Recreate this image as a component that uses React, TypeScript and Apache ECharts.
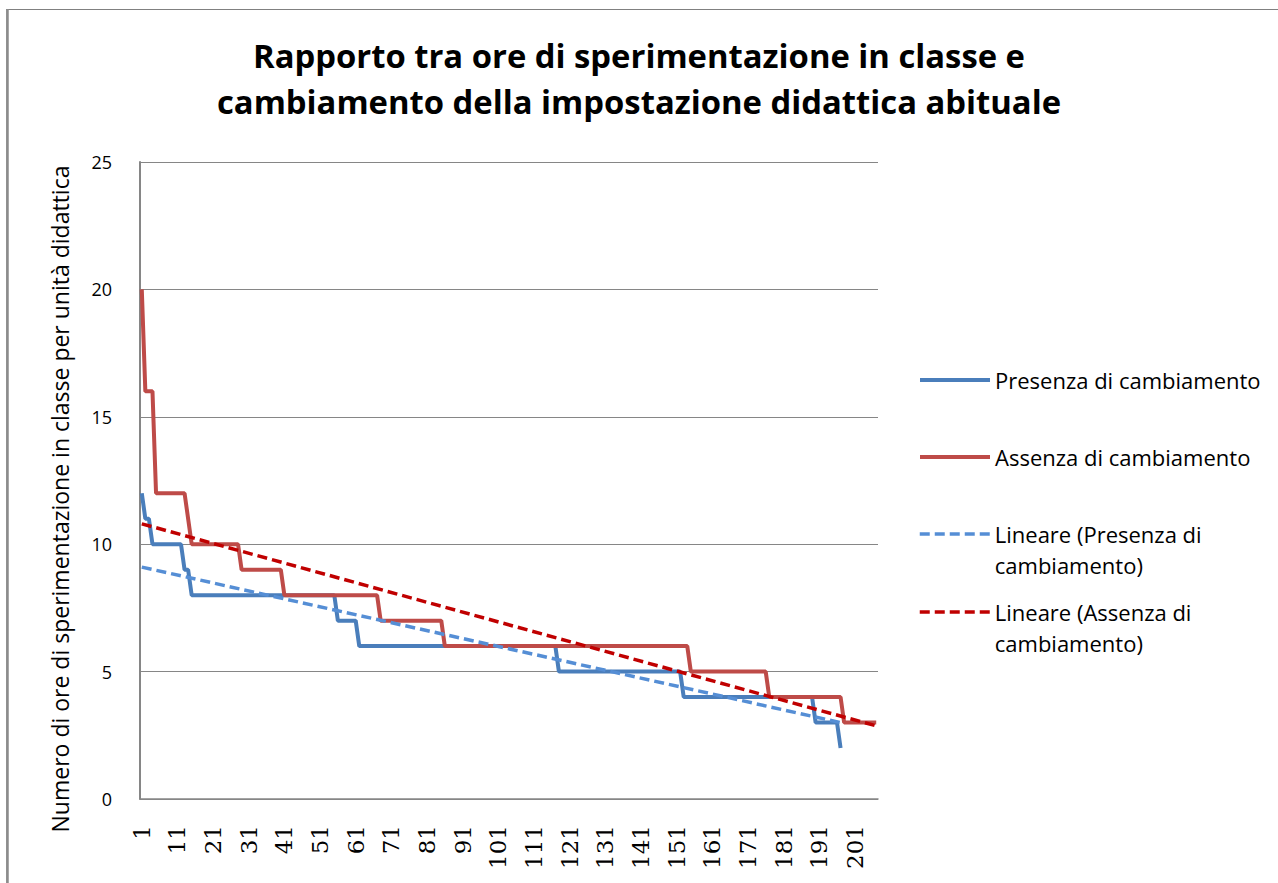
import React, { useEffect, useRef } from "react";
import * as echarts from "echarts";

// Category labels 1..207 (every record of the sorted data set)
const categoryCount = 207;
const categories: string[] = Array.from({ length: categoryCount }, (_, i) => String(i + 1));

const presenzaRuns: [number, number][] = [
  [12, 1], [11, 2], [10, 9], [9, 2], [8, 41], [7, 6], [6, 56], [5, 35], [4, 37], [3, 7], [2, 1],
];
const assenzaRuns: [number, number][] = [
  [20, 1], [16, 3], [12, 9], [11, 1], [10, 14], [9, 12], [8, 27], [7, 18], [6, 69], [5, 22], [4, 21], [3, 10],
];

// Linear trend lines: [record number, value] at their two ends
const presenzaTrend: [number, number][] = [[1, 9.1], [197, 3.0]];
const assenzaTrend: [number, number][] = [[1, 10.8], [207, 2.87]];

const yTicks = { min: 0, max: 25, interval: 5 };

const seriesNames = [
  "Presenza di cambiamento",
  "Assenza di cambiamento",
  "Lineare (Presenza di cambiamento)",
  "Lineare (Assenza di cambiamento)",
];
const legendLabels = [
  "Presenza di cambiamento",
  "Assenza di cambiamento",
  "\nLineare (Presenza di\ncambiamento)",
  "\nLineare (Assenza di\ncambiamento)",
];

const expand = (runs: [number, number][]) => {
  const out: number[] = [];
  runs.forEach(([v, n]) => {
    for (let k = 0; k < n; k++) out.push(v);
  });
  return out;
};

const FONT = "'Open Sans', Lato, sans-serif";

export default function App() {
  const ref = useRef<HTMLDivElement>(null);

  useEffect(() => {
    if (!ref.current) return;
    const chart = echarts.init(ref.current, undefined, { renderer: "svg" });

    const legendCenters = [380, 457, 534, 612];
    const legendBlock = [31, 31, 93, 93];
    const legendWidths = [4, 4, 3.5, 3.5];
    const legends = seriesNames.map((name, k) => ({
      data: [name],
      orient: "vertical",
      left: 918,
      top: legendCenters[k] - legendBlock[k] / 2,
      itemWidth: 70,
      itemHeight: 10,
      itemGap: 0,
      padding: 0,
      selectedMode: false,
      formatter: () => legendLabels[k],
      lineStyle: { width: legendWidths[k] },
      itemStyle: { opacity: 0 },
      textStyle: {
        fontFamily: FONT,
        fontSize: 22,
        color: "#000",
        lineHeight: 31,
      },
    }));

    chart.setOption({
      animation: false,
      backgroundColor: "#fff",
      title: {
        text: "Rapporto tra ore di sperimentazione in classe e\ncambiamento della impostazione didattica abituale",
        left: "center",
        top: 32,
        padding: 0,
        textStyle: {
          fontFamily: FONT,
          fontSize: 32.8,
          fontWeight: "bold",
          color: "#000",
          lineHeight: 46,
        },
      },
      legend: legends,
      grid: { left: 140, top: 162, width: 738, height: 637, containLabel: false },
      xAxis: {
        type: "category",
        boundaryGap: true,
        data: categories,
        axisLine: { show: true, lineStyle: { color: "#868686", width: 1.5 } },
        axisTick: { show: false },
        axisLabel: {
          interval: 9,
          rotate: 90,
          margin: 26,
          fontFamily: "'DejaVu Serif', serif",
          fontSize: 23,
          color: "#000",
        },
        splitLine: { show: false },
      },
      yAxis: {
        type: "value",
        min: yTicks.min,
        max: yTicks.max,
        interval: yTicks.interval,
        axisLine: { show: true, lineStyle: { color: "#868686", width: 2 } },
        axisTick: { show: false },
        axisLabel: { margin: 28, fontFamily: FONT, fontSize: 18, color: "#000" },
        splitLine: { show: true, lineStyle: { color: "#868686", width: 1 } },
      },
      graphic: [
        {
          type: "line",
          shape: { x1: 6, y1: 9.5, x2: 1278, y2: 9.5 },
          style: { stroke: "#808080", lineWidth: 1 },
          silent: true,
        },
        {
          type: "line",
          shape: { x1: 7.4, y1: 9, x2: 7.4, y2: 883 },
          style: { stroke: "#8c8c8c", lineWidth: 2.7 },
          silent: true,
        },
        {
          type: "text",
          x: 60,
          y: 499,
          rotation: Math.PI / 2,
          style: {
            text: "Numero di ore di sperimentazione in classe per unità didattica",
            fontFamily: FONT,
            fontSize: 23,
            fill: "#000",
            align: "center",
            verticalAlign: "middle",
          },
          silent: true,
        },
      ],
      series: [
        {
          name: seriesNames[0],
          type: "line",
          data: expand(presenzaRuns),
          symbol: "none",
          lineStyle: { color: "#4A7EBB", width: 4 },
          itemStyle: { color: "#4A7EBB" },
          z: 2,
        },
        {
          name: seriesNames[1],
          type: "line",
          data: expand(assenzaRuns),
          symbol: "none",
          lineStyle: { color: "#BE4B48", width: 4 },
          itemStyle: { color: "#BE4B48" },
          z: 3,
        },
        {
          name: seriesNames[2],
          type: "line",
          data: presenzaTrend.map(([p, v]) => [p - 1, v]),
          symbol: "none",
          lineStyle: { color: "#558ED5", width: 3.5, type: [10, 5] },
          itemStyle: { color: "#558ED5" },
          z: 4,
        },
        {
          name: seriesNames[3],
          type: "line",
          data: assenzaTrend.map(([p, v]) => [p - 1, v]),
          symbol: "none",
          lineStyle: { color: "#C00000", width: 3.5, type: [10, 5] },
          itemStyle: { color: "#C00000" },
          z: 5,
        },
      ],
    });

    return () => chart.dispose();
  }, []);

  return (
    <div
      ref={ref}
      style={{ position: "fixed", left: 0, top: 0, width: 1278, height: 883 }}
    />
  );
}
